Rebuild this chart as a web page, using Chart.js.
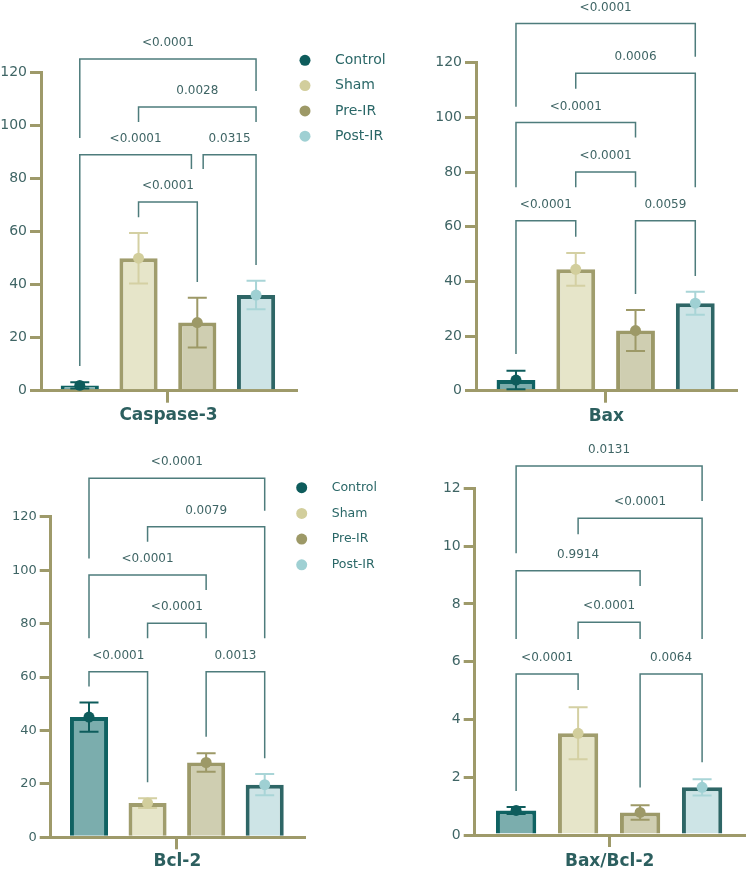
<!DOCTYPE html>
<html lang="en">
<head>
  <meta charset="UTF-8">
  <title>Caspase-3, Bax, Bcl-2</title>
  <script src="https://cdn.jsdelivr.net/npm/chart.js"></script>
  <style>
    body { margin: 0; background: #fff; }
    #wrap { position: relative; width: 750px; height: 872px; }
    canvas { position: absolute; }
  </style>
</head>
<body>
  <div id="wrap">
    <canvas id="c1" width="400" height="440" style="left:0;top:0"></canvas>
    <canvas id="c2" width="350" height="440" style="left:400px;top:0"></canvas>
    <canvas id="c3" width="400" height="432" style="left:0;top:440px"></canvas>
    <canvas id="c4" width="350" height="432" style="left:400px;top:440px"></canvas>
  </div>

  <script>
    var groups = ['Control', 'Sham', 'Pre-IR', 'Post-IR'];

    var caspaseMean = [2, 50, 25.7, 36.1];
    var caspaseErr  = [1.2, 9.5, 9.4, 5.4];
    var baxMean = [3.9, 44.4, 22, 32];
    var baxErr  = [3.4, 6, 7.5, 4.2];
    var bcl2Mean = [45, 12.8, 28, 19.7];
    var bcl2Err  = [5.5, 1.8, 3.5, 4];
    var ratioMean = [0.85, 3.52, 0.78, 1.65];
    var ratioErr  = [0.12, 0.9, 0.25, 0.28];

    // [label, from group, to group, bar height, left leg end, right leg end]
    var caspaseBrackets = [
      ['<0.0001', 0, 3, 125.2, 95.4, 113.1],
      ['0.0028', 1, 3, 107.1, 101.4, 101.4],
      ['<0.0001', 0, 1.9, 89, 9.3, 83.7],
      ['0.0315', 2.1, 3, 89, 83.7, 47.4],
      ['<0.0001', 1, 2, 71.2, 65.5, 41]
    ];
    var baxBrackets = [
      ['<0.0001', 0, 3, 134.3, 103.9, 122.2],
      ['0.0006', 1, 3, 116.1, 110.5, 74.4],
      ['<0.0001', 0, 2, 98.1, 74.4, 92.6],
      ['<0.0001', 1, 2, 80, 74.4, 74.4],
      ['<0.0001', 0, 1, 62.2, 13.4, 56.3],
      ['0.0059', 2, 3, 62.2, 35.4, 42]
    ];
    var bcl2Brackets = [
      ['<0.0001', 0, 3, 134.4, 104.4, 122.2],
      ['0.0079', 1, 3, 116.2, 110.6, 74.5],
      ['<0.0001', 0, 2, 98.2, 74.5, 92.6],
      ['<0.0001', 1, 2, 80.1, 74.5, 74.5],
      ['<0.0001', 0, 1, 62, 56.4, 20.6],
      ['0.0013', 2, 3, 62, 37.6, 29.6]
    ];
    var ratioBrackets = [
      ['0.0131', 0, 3, 12.77, 9.75, 11.56],
      ['<0.0001', 1, 3, 10.96, 10.41, 6.78],
      ['0.9914', 0, 2, 9.15, 6.78, 8.62],
      ['<0.0001', 1, 2, 7.36, 6.78, 6.78],
      ['<0.0001', 0, 1, 5.57, 1.52, 5.02],
      ['0.0064', 2, 3, 5.57, 1.64, 2.52]
    ];

    var fillColors = ['#7badad', '#e6e5c9', '#cfceb1', '#cde4e6'];
    var edgeColors = ['#0f6262', '#a09d6d', '#9c9968', '#2e6666'];
    var dotColors  = ['#0e5c5c', '#d2ce9c', '#9d9967', '#9fd0d3'];
    var errColors  = ['#0e5c5c', '#d4d0a3', '#9d9967', '#a9d5d7'];
    var axisColor = '#9e9a6a';
    var bracketColor = '#4e7c7c';
    var textColor = '#3f6565';

    Chart.defaults.font.family = '"DejaVu Sans", sans-serif';

    function makeExtras(p) {
      return {
        id: 'extras',
        afterDatasetDraw: function(chart, args) {
          if (args.meta.type !== 'bar') return;
          var ctx = chart.ctx, xs = chart.scales.x, ys = chart.scales.y;
          ctx.save();
          ctx.lineWidth = 2;
          p.mean.forEach(function(m, i) {
            var px = xs.getPixelForValue(i);
            var top = ys.getPixelForValue(m + p.err[i]);
            var bot = ys.getPixelForValue(Math.max(0, m - p.err[i]));
            ctx.strokeStyle = errColors[i];
            ctx.beginPath();
            ctx.moveTo(px, top); ctx.lineTo(px, bot);
            ctx.moveTo(px - 9.5, top); ctx.lineTo(px + 9.5, top);
            ctx.moveTo(px - 9.5, bot); ctx.lineTo(px + 9.5, bot);
            ctx.stroke();
          });
          ctx.restore();
        },
        afterDraw: function(chart) {
          var ctx = chart.ctx, xs = chart.scales.x, ys = chart.scales.y;
          ctx.save();
          ctx.strokeStyle = bracketColor;
          ctx.lineWidth = 1.5;
          ctx.fillStyle = textColor;
          ctx.font = '12px "DejaVu Sans"';
          ctx.textAlign = 'center';
          ctx.textBaseline = 'middle';
          p.brackets.forEach(function(b) {
            var x1 = xs.getPixelForValue(b[1]), x2 = xs.getPixelForValue(b[2]);
            var yl = ys.getPixelForValue(b[3]);
            ctx.beginPath();
            ctx.moveTo(x1, ys.getPixelForValue(b[4]));
            ctx.lineTo(x1, yl);
            ctx.lineTo(x2, yl);
            ctx.lineTo(x2, ys.getPixelForValue(b[5]));
            ctx.stroke();
            ctx.fillText(b[0], (x1 + x2) / 2, yl - 16);
          });

          // legend
          if (p.legend) {
            var lg = p.legend;
            ctx.textAlign = 'left';
            ctx.font = lg.size + 'px "DejaVu Sans"';
            groups.forEach(function(g, i) {
              var cy = lg.y + i * lg.dy;
              ctx.fillStyle = dotColors[i];
              ctx.beginPath();
              ctx.arc(lg.x, cy, 5.5, 0, Math.PI * 2);
              ctx.fill();
              ctx.fillStyle = '#2a6767';
              ctx.fillText(g, lg.tx, cy);
            });
          }
          ctx.restore();
        }
      };
    }

    function makeChart(id, p) {
      return new Chart(document.getElementById(id), {
        type: 'bar',
        data: {
          datasets: [{
            type: 'scatter',
            order: 0,
            data: p.mean.map(function(v, i) { return {x: i, y: v}; }),
            pointRadius: 5.5,
            pointBackgroundColor: dotColors,
            pointBorderWidth: 0
          }, {
            type: 'bar',
            order: 1,
            data: p.mean.map(function(v, i) { return {x: i, y: v}; }),
            backgroundColor: fillColors,
            borderColor: edgeColors,
            borderWidth: 4,
            barPercentage: 0.65,
            categoryPercentage: 1
          }]
        },
        options: {
          responsive: false,
          animation: false,
          layout: { padding: { top: p.padTop, right: p.padRight, left: 0, bottom: 0 } },
          plugins: { legend: { display: false }, tooltip: { enabled: false } },
          scales: {
            x: {
              type: 'linear',
              min: p.xMin,
              max: p.xMax,
              offset: false,
              afterFit: function(s) { s.height = p.xHeight; },
              afterBuildTicks: function(s) { s.ticks = [{value: 1.5}]; },
              ticks: { display: false },
              grid: { offset: false, drawOnChartArea: false, color: axisColor, lineWidth: 3, tickLength: 12 },
              border: { color: axisColor, width: 3 },
              title: {
                display: true,
                text: p.title,
                color: '#2c5f5f',
                font: { size: 17, weight: 'bold' },
                padding: { top: 0, bottom: p.titlePad }
              }
            },
            y: {
              min: 0,
              max: p.yMax,
              afterFit: function(s) { s.width = p.yWidth; s.paddingTop = 0; s.paddingBottom = 0; },
              ticks: { stepSize: p.step, color: textColor, font: { size: p.tickSize }, padding: 3 },
              grid: { drawOnChartArea: false, color: axisColor, lineWidth: 3, tickLength: 11 },
              border: { color: axisColor, width: 3 }
            }
          }
        },
        plugins: [makeExtras(p)]
      });
    }

    makeChart('c1', {
      title: 'Caspase-3', mean: caspaseMean, err: caspaseErr, brackets: caspaseBrackets,
      yMax: 120, step: 20, yWidth: 41, padTop: 72.7, padRight: 104, xHeight: 49.3,
      xMin: -0.66, xMax: 3.68, titlePad: 13.8, tickSize: 14,
      legend: { x: 305, tx: 335, y: 60.3, dy: 25.3, size: 14 }
    });
    makeChart('c2', {
      title: 'Bax', mean: baxMean, err: baxErr, brackets: baxBrackets,
      yMax: 120, step: 20, yWidth: 76, padTop: 62.7, padRight: 13.3, xHeight: 49.3,
      xMin: -0.669, xMax: 3.693, titlePad: 13.1, tickSize: 14
    });
    makeChart('c3', {
      title: 'Bcl-2', mean: bcl2Mean, err: bcl2Err, brackets: bcl2Brackets,
      yMax: 120, step: 20, yWidth: 50.7, padTop: 76.7, padRight: 96, xHeight: 34.7,
      xMin: -0.654, xMax: 3.671, titlePad: 0, tickSize: 13,
      legend: { x: 301.7, tx: 331.7, y: 47.7, dy: 25.7, size: 12.5 }
    });
    makeChart('c4', {
      title: 'Bax/Bcl-2', mean: ratioMean, err: ratioErr, brackets: ratioBrackets,
      yMax: 12, step: 2, yWidth: 74.7, padTop: 48.3, padRight: 1.7, xHeight: 37,
      xMin: -0.668, xMax: 3.684, titlePad: 0, tickSize: 14
    });
  </script>
</body>
</html>
